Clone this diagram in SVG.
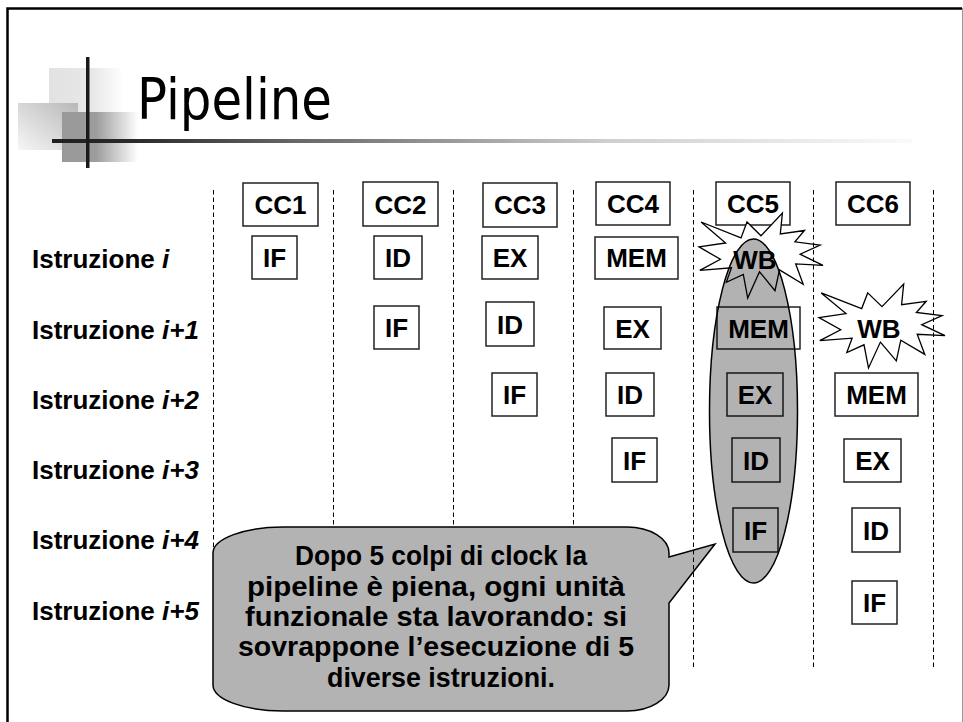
<svg xmlns="http://www.w3.org/2000/svg" width="963" height="722" viewBox="0 0 963 722">
  <style>
    .box { fill: #fff; stroke: #222; stroke-width: 1.5; }
    .lbl { font-family: "Liberation Sans", Arial, sans-serif; font-weight: bold; font-size: 26px; text-anchor: middle; fill: #000; }
    .row { font-family: "Liberation Sans", Arial, sans-serif; font-weight: bold; font-size: 26px; fill: #000; }
    .grid { stroke: #000; stroke-width: 1; stroke-dasharray: 4.5 3; fill: none; }
    .seal { fill: #fff; stroke: #000; stroke-width: 1.3; stroke-linejoin: miter; }
    .note { font-family: "Liberation Sans", Arial, sans-serif; font-weight: bold; font-size: 27px; fill: #000; }
  </style>
  <defs>
    <linearGradient id="rule" x1="52" y1="0" x2="912" y2="0" gradientUnits="userSpaceOnUse">
      <stop offset="0" stop-color="#1e1e1e"/>
      <stop offset="0.1" stop-color="#2c2c2c"/>
      <stop offset="0.3" stop-color="#6c6c6c"/>
      <stop offset="0.65" stop-color="#cfcfcf"/>
      <stop offset="1" stop-color="#fafafa"/>
    </linearGradient>
    <linearGradient id="sqLight" x1="0" y1="0" x2="1" y2="0">
      <stop offset="0" stop-color="#e2e2e2"/>
      <stop offset="0.6" stop-color="#e8e8e8"/>
      <stop offset="1" stop-color="#ffffff"/>
    </linearGradient>
    <linearGradient id="sqLeft" x1="1" y1="0" x2="0" y2="1">
      <stop offset="0" stop-color="#b8b8b8"/>
      <stop offset="1" stop-color="#f6f6f6"/>
    </linearGradient>
    <linearGradient id="sqDark" x1="0" y1="0" x2="1" y2="0">
      <stop offset="0" stop-color="#999"/>
      <stop offset="0.45" stop-color="#9c9c9c"/>
      <stop offset="1" stop-color="#ffffff"/>
    </linearGradient>
  </defs>

  <!-- page frame -->
  <path d="M7.5 722 V8.5 H962" fill="none" stroke="#000" stroke-width="2.5"/>
  <line x1="962.5" y1="8" x2="962.5" y2="722" stroke="#999" stroke-width="1"/>

  <!-- title decoration -->
  <g id="title-decor">
    <rect x="49" y="68" width="74" height="50" fill="url(#sqLight)"/>
    <rect x="18" y="103" width="60" height="47" fill="url(#sqLeft)"/>
    <rect x="62" y="112" width="76" height="50" fill="url(#sqDark)"/>
    <rect x="52" y="139" width="860" height="4" fill="url(#rule)"/>
    <rect x="86" y="57" width="3.5" height="111" fill="#1a1a1a"/>
  </g>
  <text id="title" x="137" y="119" font-family="'DejaVu Sans', Tahoma, sans-serif" font-size="57" textLength="195" lengthAdjust="spacingAndGlyphs" fill="#000">Pipeline</text>

  <!-- row labels -->
  <g id="rows">
    <text class="row" x="32" y="268">Istruzione <tspan font-style="italic">i</tspan></text>
    <text class="row" x="32" y="339">Istruzione <tspan font-style="italic">i+1</tspan></text>
    <text class="row" x="32" y="409">Istruzione <tspan font-style="italic">i+2</tspan></text>
    <text class="row" x="32" y="479">Istruzione <tspan font-style="italic">i+3</tspan></text>
    <text class="row" x="32" y="549">Istruzione <tspan font-style="italic">i+4</tspan></text>
    <text class="row" x="32" y="620">Istruzione <tspan font-style="italic">i+5</tspan></text>
  </g>

  <!-- clock cycle headers -->
  <g id="cc1"><rect class="box" x="243" y="183" width="75" height="43"/><text class="lbl" x="280.5" y="213.5">CC1</text></g>
  <g id="cc2"><rect class="box" x="363" y="182" width="75" height="44"/><text class="lbl" x="400.5" y="213.5">CC2</text></g>
  <g id="cc3"><rect class="box" x="483" y="183" width="74" height="44"/><text class="lbl" x="520" y="214">CC3</text></g>
  <g id="cc4"><rect class="box" x="596" y="182" width="74" height="43"/><text class="lbl" x="633" y="213">CC4</text></g>
  <g id="cc5"><rect class="box" x="716" y="182" width="74" height="43"/><text class="lbl" x="753" y="213">CC5</text></g>
  <g id="cc6"><rect class="box" x="836" y="182" width="74" height="43"/><text class="lbl" x="873" y="213">CC6</text></g>

  <!-- instruction i -->
  <g id="i0-if"><rect class="box" x="252" y="236" width="45" height="43"/><text class="lbl" x="274.5" y="267">IF</text></g>
  <g id="i0-id"><rect class="box" x="374" y="236" width="48" height="43"/><text class="lbl" x="398" y="267">ID</text></g>
  <g id="i0-ex"><rect class="box" x="482" y="236" width="56" height="43"/><text class="lbl" x="510" y="267">EX</text></g>
  <g id="i0-mem"><rect class="box" x="595" y="237" width="83" height="42"/><text class="lbl" x="636.5" y="267">MEM</text></g>
  <g id="i0-wb">
    <path class="seal" d="M761 235.8 L782.4 213 L780.3 234 L804.5 230.5 L794.9 241.8 L820.1 245 L800.1 254.2 L823 265.3 L795.7 263.9 L803.2 284.2 L779.5 269.9 L775 290.7 L759.5 271.8 L747.7 298 L743.3 274.5 L726.3 282.3 L731.5 267.8 L699.8 270.4 L720.4 259.3 L699 246.9 L725.6 243 L701.1 222 L741 237.9 L747 222 Z"/>
    <text class="lbl" x="755" y="269">WB</text>
  </g>

  <!-- instruction i+1 -->
  <g id="i1-if"><rect class="box" x="374" y="306" width="45" height="43"/><text class="lbl" x="396.5" y="337">IF</text></g>
  <g id="i1-id"><rect class="box" x="486" y="302" width="48" height="44"/><text class="lbl" x="510" y="333.5">ID</text></g>
  <g id="i1-ex"><rect class="box" x="604" y="307" width="57" height="42"/><text class="lbl" x="632.5" y="337.5">EX</text></g>
  <g id="i1-mem"><rect class="box" x="717" y="307" width="83" height="42"/><text class="lbl" x="758.5" y="337.5">MEM</text></g>
  <g id="i1-wb">
    <path class="seal" d="M882 306.6 L903.7 284 L901.6 304.7 L926.2 301.3 L916.4 312.5 L942.1 315.6 L921.7 324.7 L945 335.7 L917.2 334.3 L924.8 354.4 L900.8 340.2 L896.3 360.8 L880.4 342.1 L868.5 368 L864 344.8 L846.8 352.5 L852.1 338.2 L819.8 340.7 L840.7 329.8 L819 317.5 L846 313.6 L821.2 292.9 L861.7 308.6 L867.7 292.9 Z"/>
    <text class="lbl" x="879" y="337.5">WB</text>
  </g>

  <!-- instruction i+2 -->
  <g id="i2-if"><rect class="box" x="492" y="373" width="45" height="43"/><text class="lbl" x="514.5" y="404">IF</text></g>
  <g id="i2-id"><rect class="box" x="606" y="373" width="48" height="43"/><text class="lbl" x="630" y="404">ID</text></g>
  <g id="i2-ex"><rect class="box" x="727" y="373" width="56" height="43"/><text class="lbl" x="755" y="404">EX</text></g>
  <g id="i2-mem"><rect class="box" x="835" y="373" width="83" height="43"/><text class="lbl" x="876.5" y="404">MEM</text></g>

  <!-- instruction i+3 -->
  <g id="i3-if"><rect class="box" x="612" y="438" width="45" height="44"/><text class="lbl" x="634.5" y="469.5">IF</text></g>
  <g id="i3-id"><rect class="box" x="732" y="438" width="48" height="44"/><text class="lbl" x="756" y="469.5">ID</text></g>
  <g id="i3-ex"><rect class="box" x="844" y="439" width="57" height="43"/><text class="lbl" x="872.5" y="470">EX</text></g>

  <!-- instruction i+4 -->
  <g id="i4-if"><rect class="box" x="733" y="508" width="45" height="44"/><text class="lbl" x="755.5" y="539.5">IF</text></g>
  <g id="i4-id"><rect class="box" x="852" y="508" width="48" height="44"/><text class="lbl" x="876" y="539.5">ID</text></g>

  <!-- instruction i+5 -->
  <g id="i5-if"><rect class="box" x="852" y="581" width="45" height="43"/><text class="lbl" x="874.5" y="612">IF</text></g>

  <!-- clock cycle separators -->
  <g id="connectors">
    <line class="grid" x1="213.5" y1="190" x2="213.5" y2="670"/>
    <line class="grid" x1="333.5" y1="190" x2="333.5" y2="670"/>
    <line class="grid" x1="453.5" y1="190" x2="453.5" y2="670"/>
    <line class="grid" x1="573.5" y1="190" x2="573.5" y2="670"/>
    <line class="grid" x1="813.5" y1="190" x2="813.5" y2="670"/>
    <line class="grid" x1="933.5" y1="190" x2="933.5" y2="670"/>
  </g>

  <!-- full-pipeline highlight over the CC5 column -->
  <g id="cc5-highlight">
    <ellipse cx="753.5" cy="411" rx="44" ry="172" fill="#000" fill-opacity="0.3" stroke="#000" stroke-width="1.5"/>
  </g>

  <!-- explanatory callout -->
  <g id="callout">
    <path d="M283 527 H627 A42 26 0 0 1 669 553 V557 L715 544 L669 603 V685 A42 26 0 0 1 627 711 H283 A70 26 0 0 1 213 685 V553 A70 26 0 0 1 283 527 Z" fill="#b3b3b3" stroke="#000" stroke-width="1.5"/>
    <text class="note">
      <tspan x="295" y="565" textLength="292" lengthAdjust="spacingAndGlyphs">Dopo 5 colpi di clock la</tspan>
      <tspan x="247" y="595.5" textLength="378" lengthAdjust="spacingAndGlyphs">pipeline è piena, ogni unità</tspan>
      <tspan x="245" y="626" textLength="382" lengthAdjust="spacingAndGlyphs">funzionale sta lavorando: si</tspan>
      <tspan x="238" y="656" textLength="396" lengthAdjust="spacingAndGlyphs">sovrappone l’esecuzione di 5</tspan>
      <tspan x="327" y="686.5" textLength="228" lengthAdjust="spacingAndGlyphs">diverse istruzioni.</tspan>
    </text>
  </g>
  <line class="grid" x1="693.5" y1="190" x2="693.5" y2="670"/>
</svg>
